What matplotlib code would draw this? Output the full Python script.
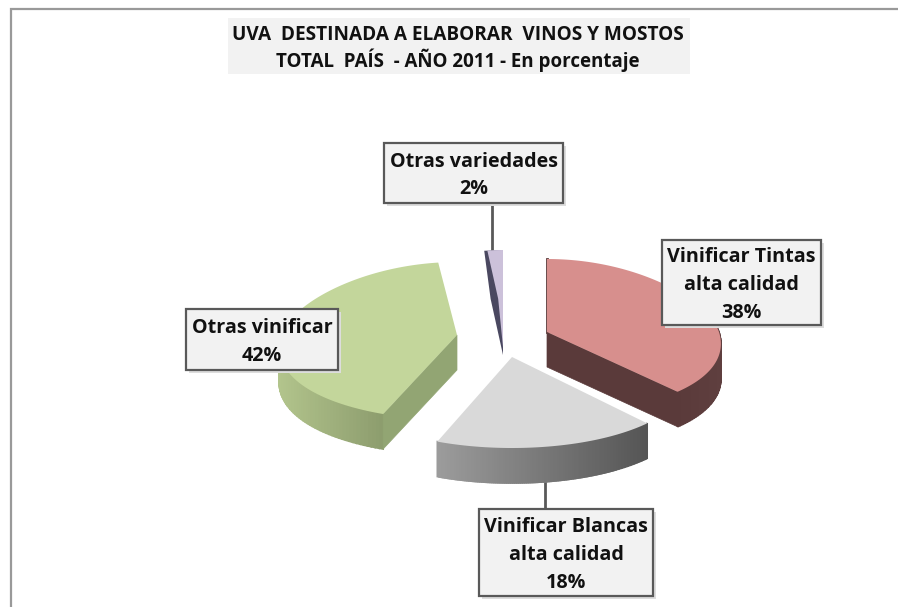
import numpy as np
import matplotlib
matplotlib.use("Agg")
import matplotlib.pyplot as plt
from matplotlib.colors import to_rgb

# Datos de la torta
categorias = ["Vinificar Tintas\nalta calidad", "Vinificar Blancas\nalta calidad", "Otras vinificar", "Otras variedades"]
valores = [38, 18, 42, 2]
titulo_1 = "UVA  DESTINADA A ELABORAR  VINOS Y MOSTOS"
titulo_2 = "TOTAL  PAÍS  - AÑO 2011 - En porcentaje"

# Colores: cara superior, corte, pared (izq, der)
c_top = ["#d78f8d", "#d9d9d9", "#c3d69b", "#ccc1da"]
c_corte = ["#5a3a3a", "#8a8a8a", "#92a573", "#4a4860"]
c_pared_a = ["#5a3a3a", "#9c9c9c", "#b2c48c", "#4a4860"]
c_pared_b = ["#5f3f3f", "#555555", "#8d9d6e", "#4a4860"]

# Geometria en pixeles: vertice de cada porcion y radios
vertices = [(547, 332), (512, 357), (457, 335), (503, 347)]
ry_atras = [73, 73, 73, 97]
ry_frente = [82, 91, 85, 85]
rx = [172, 178, 176, 176]
k_persp = 0.15
prof = 35

fig = plt.figure(figsize=(8.98, 6.07), dpi=100)
ax = fig.add_axes([0, 0, 1, 1])
ax.set_xlim(0, 898)
ax.set_ylim(607, 0)
ax.axis("off")

plt.rcParams['font.family'] = ['Open Sans', 'DejaVu Sans']


def borde(i, ang):
    # angulo en grados, sentido horario desde arriba
    t = np.radians(ang)
    ux, uy = np.sin(t), -np.cos(t)
    ry = np.where(uy > 0, ry_frente[i], ry_atras[i])
    x = vertices[i][0] + rx[i] * (1 + k_persp * uy) * ux
    y = vertices[i][1] + ry * uy
    return x, y


def mezcla(a, b, f):
    a, b = np.array(to_rgb(a)), np.array(to_rgb(b))
    return tuple(a + (b - a) * f)


# Marco
ax.plot([11, 11, 898], [607, 9, 9], color="#999999", lw=1.6, solid_joinstyle="miter", zorder=1)

# Titulo
ax.fill([228, 690, 690, 228], [18, 18, 74, 74], color="#f2f2f2", lw=0, zorder=1)
ax.text(458, 35, titulo_1, ha="center", va="center", fontsize=13.7, fontweight="bold", color="#111111", zorder=2)
ax.text(458, 60, titulo_2, ha="center", va="center", fontsize=13.5, fontweight="bold", color="#111111", zorder=2)

# Porciones
acum = np.cumsum([0] + valores) / sum(valores) * 360
for i in [3, 2, 0, 1]:
    a0, a1 = acum[i], acum[i + 1]
    vx, vy = vertices[i]
    angs = np.linspace(a0, a1, 120)
    xs, ys = borde(i, angs)

    # Pared curva con degradado
    frente = np.where(-np.cos(np.radians(angs)) > -0.25)[0]
    if i != 3:
        izq_x, der_x = xs[frente].min(), xs[frente].max()
        for j in frente[:-1]:
            f = (xs[j] - izq_x) / max(der_x - izq_x, 1)
            col = mezcla(c_pared_a[i], c_pared_b[i], f)
            ax.fill([xs[j], xs[j + 1], xs[j + 1], xs[j]],
                    [ys[j], ys[j + 1], ys[j + 1] + prof, ys[j] + prof],
                    color=col, lw=1.2, zorder=3 + i * 0.1)

    # Cara de corte
    if i == 0:
        ax.fill([vx, xs[-1], xs[-1], vx], [vy, ys[-1], ys[-1] + prof, vy + prof],
                color=c_corte[i], lw=0.5, zorder=3.5)
        ax.plot([xs[0], vx], [ys[0], vy], color=c_corte[i], lw=2, zorder=3.5)
    if i == 2:
        ax.fill([vx, xs[0], xs[0], vx], [vy, ys[0], ys[0] + prof, vy + prof],
                color=c_corte[i], lw=0.5, zorder=3.5)

    # Cara superior
    if i == 3:
        mx, my = (vx + xs[0]) / 2 - 3, (vy + ys[0]) / 2
        ax.fill([vx, mx, xs[0], xs[-1]], [vy + 8, my, ys[0], ys[-1]], color=c_corte[i], lw=0, zorder=3.6)
        xs2, ys2 = borde(i, np.linspace(a0 + 1.2, a1, 40))
        ax.fill(np.r_[vx, (vx + xs2[0]) / 2 + 3, xs2], np.r_[vy, (vy + ys2[0]) / 2, ys2],
                color=c_top[i], lw=0, zorder=3.7)
    else:
        ax.fill(np.r_[vx, xs], np.r_[vy, ys], color=c_top[i], lw=0, zorder=3.7)

# Lineas guia
ax.plot([492, 492], [203, 250], color="#595959", lw=2, zorder=3)
ax.plot([545, 545], [483, 509], color="#595959", lw=2, zorder=3)

# Etiquetas
cajas = [(662, 240, 821, 325), (479, 509, 653, 596), (186, 309, 338, 370), (384, 143, 563, 203)]
for i, (x0, y0, x1, y1) in enumerate(cajas):
    ax.fill([x0 + 3, x1 + 3, x1 + 3, x0 + 3], [y0 + 3, y0 + 3, y1 + 3, y1 + 3], color="#dddddd", lw=0, zorder=5)
    ax.fill([x0, x1, x1, x0], [y0, y0, y1, y1], facecolor="#f2f2f2", edgecolor="#595959", lw=1.6, zorder=6)
    ax.text((x0 + x1) / 2, (y0 + y1) / 2 + 2.5, f"{categorias[i]}\n{valores[i]}%",
            ha="center", va="center", fontsize=14.2, fontweight="bold", color="#111111",
            linespacing=1.5, zorder=7)

fig.savefig("out.png", dpi=100)
